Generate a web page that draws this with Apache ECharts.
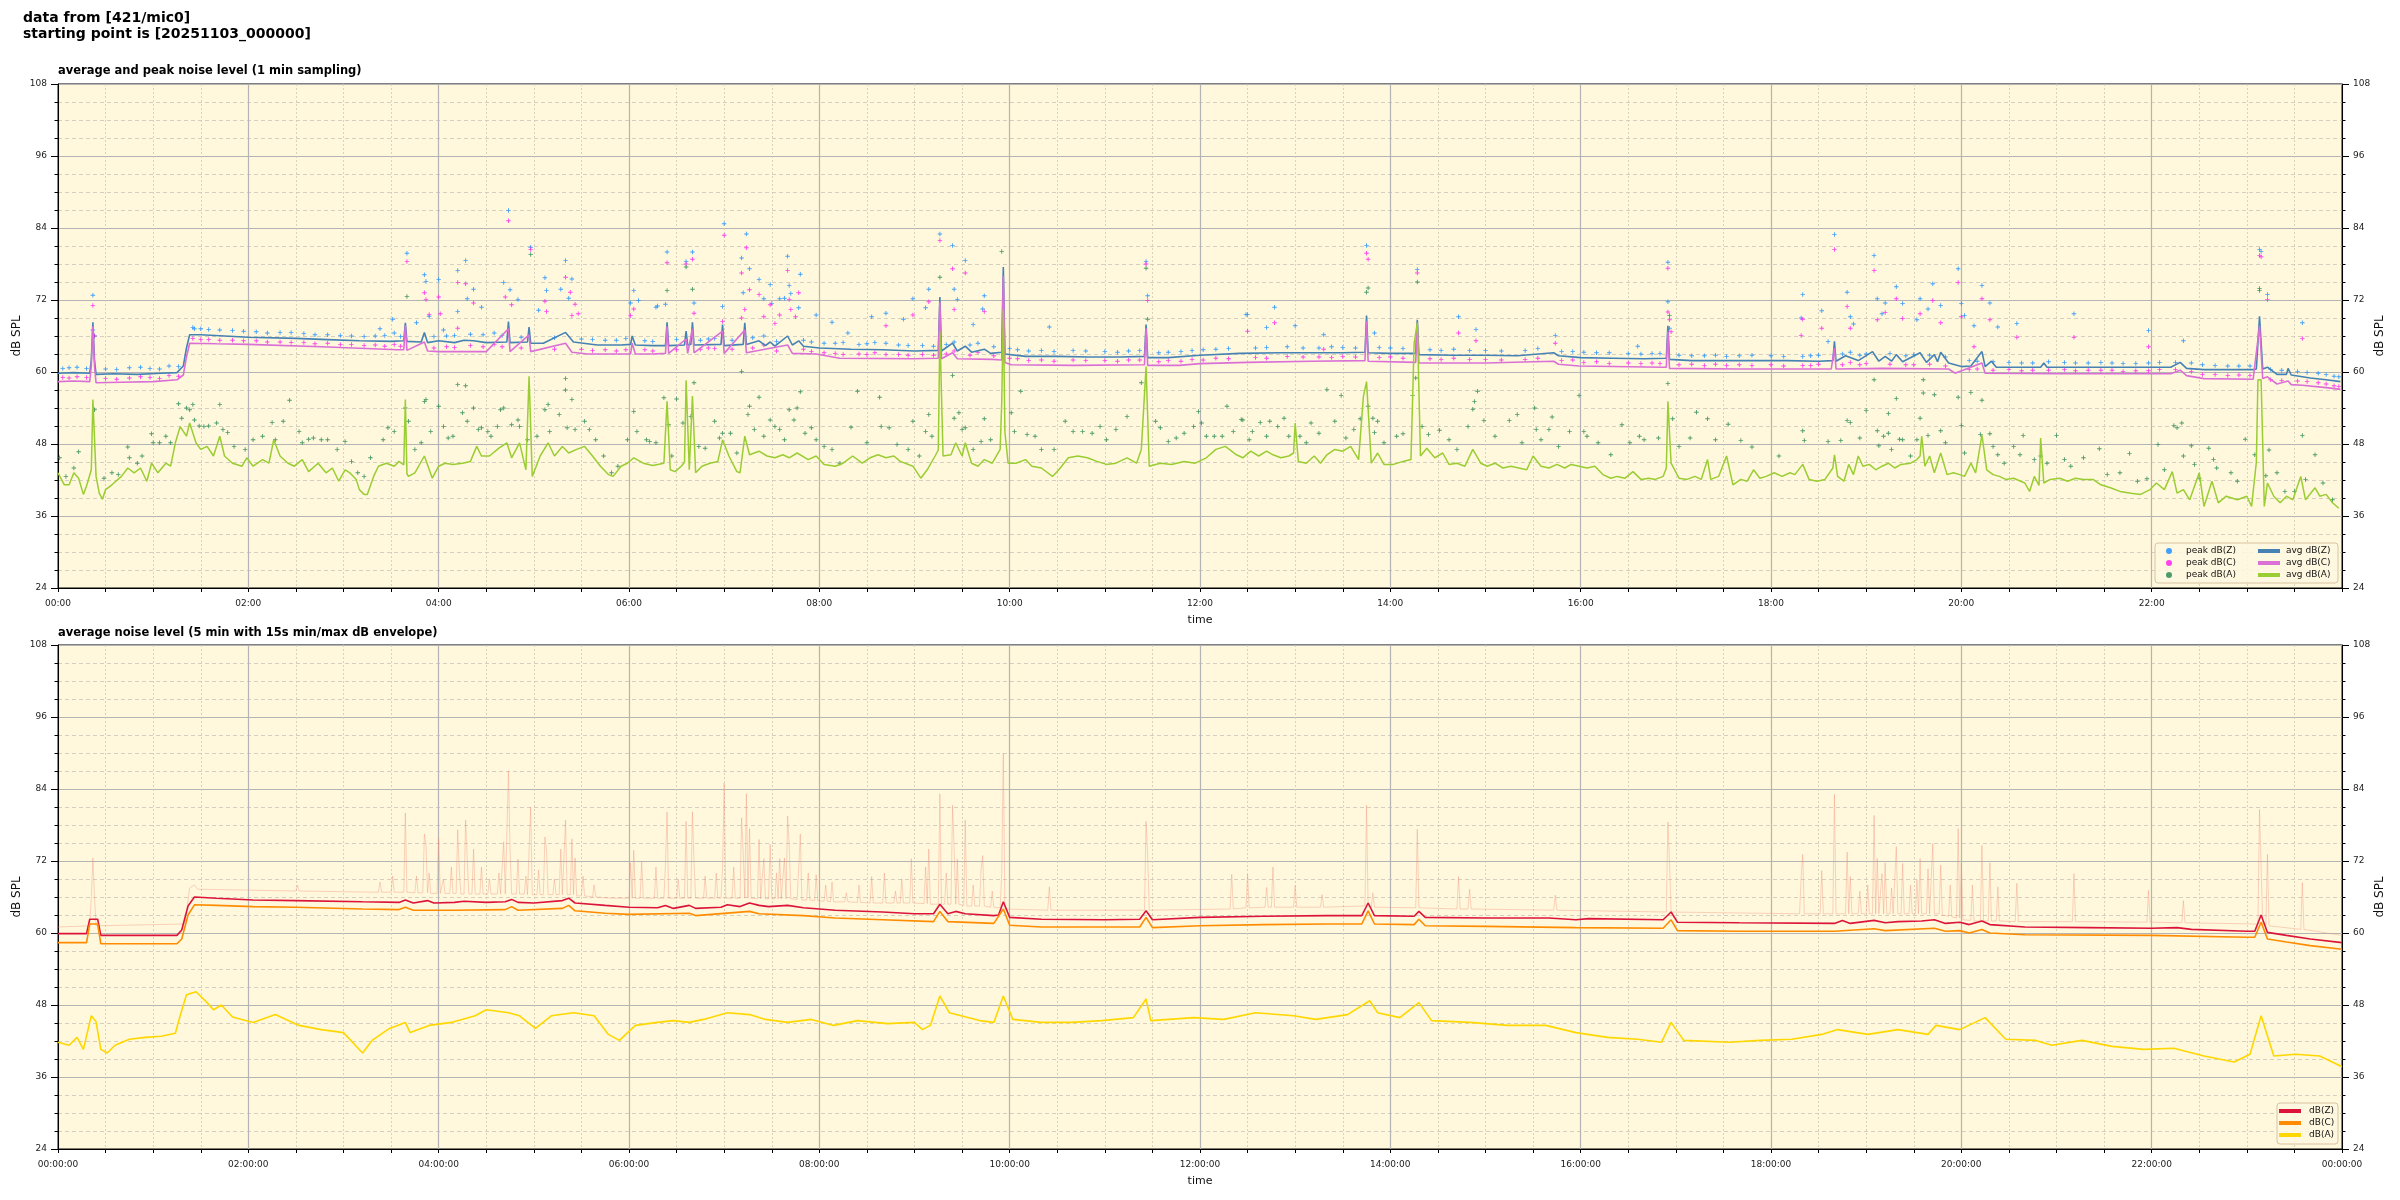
<!DOCTYPE html>
<html><head><meta charset="utf-8">
<script src="https://cdn.jsdelivr.net/npm/echarts@6/dist/echarts.min.js"></script>
<style>html,body{margin:0;padding:0;background:#fff}#c{width:2400px;height:1200px}</style>
</head><body><div id="c"></div>
<script>
const topTickLabels=['00:00','02:00','04:00','06:00','08:00','10:00','12:00','14:00','16:00','18:00','20:00','22:00'];
const bottomTickLabels=['00:00:00','02:00:00','04:00:00','06:00:00','08:00:00','10:00:00','12:00:00','14:00:00','16:00:00','18:00:00','20:00:00','22:00:00','00:00:00'];
const yTicks=[24,36,48,60,72,84,96,108];

// top plot: 1-min averages [minute, dB]
const avgZ=[[0,59.8],[10,59.9],[20,59.8],[21,62],[22,68.3],[23,62],[24,59.6],[35,59.7],[50,59.6],[65,59.8],[75,59.9],[79,61],[81,64],[83,66.2],[90,66.2],[105,66],[120,65.8],[150,65.6],[170,65.4],[190,65.2],[210,65.1],[218,65.2],[219,68.2],[220,65.1],[229,65],[231,66.6],[233,64.9],[240,65.2],[250,64.9],[256,65.3],[262,65.2],[270,64.9],[283,65],[284,68.4],[285,64.9],[296,65],[297,67.5],[298,64.8],[306,64.8],[320,66.6],[325,65],[340,64.5],[355,64.5],[361,64.6],[362,66],[364,64.5],[375,64.4],[383,64.4],[384,68.3],[385,64.4],[395,64.5],[396,66.8],[397,64.5],[399,64.6],[400,68.3],[401,64.5],[418,64.6],[419,67.9],[420,64.4],[432,64.6],[433,68.2],[434,64.6],[442,65.2],[446,64.4],[449,65],[452,64.3],[460,66],[463,64.5],[467,65.2],[470,64.3],[480,64],[500,63.8],[520,63.7],[540,63.5],[555,63.6],[556,72.5],[557,63.5],[564,64.8],[567,63.5],[572,64.3],[576,63.3],[584,63.8],[588,63.1],[595,63.3],[596,77.5],[597,63],[610,62.6],[630,62.6],[650,62.5],[670,62.5],[685,62.6],[686,67.9],[687,62.4],[700,62.4],[720,62.8],[745,63.1],[770,63.2],[790,63.2],[810,63.2],[824,63.3],[825,69.4],[826,63.2],[840,63.1],[856,63.1],[857,68.7],[858,62.9],[880,62.8],[900,62.8],[920,62.7],[943,63.2],[946,62.7],[960,62.4],[980,62.3],[1000,62.2],[1014,62.3],[1015,67.7],[1016,62.1],[1030,61.9],[1060,61.9],[1090,61.9],[1110,61.8],[1119,61.9],[1120,65.1],[1121,61.8],[1127,62.7],[1135,61.9],[1144,63.4],[1148,61.8],[1152,62.6],[1156,61.8],[1159,62.9],[1163,61.7],[1174,63.2],[1178,61.6],[1183,62.9],[1185,61.7],[1187,63.3],[1192,61.5],[1200,60.9],[1206,61],[1213,63.4],[1215,60.9],[1219,61.8],[1222,60.8],[1250,60.8],[1252,61.5],[1254,60.8],[1290,60.8],[1332,60.8],[1338,61.6],[1342,60.6],[1353,60.4],[1384,60.4],[1386,60.5],[1388,69.3],[1390,60.5],[1393,60.8],[1399,59.6],[1405,59.6],[1406,60.6],[1408,59.5],[1420,59],[1430,58.7],[1439,58.4]];
const avgC=[[0,58.4],[10,58.5],[20,58.4],[21,61],[22,67.6],[23,61],[24,58.2],[40,58.3],[60,58.4],[75,58.7],[79,59.5],[81,62.5],[83,64.8],[100,64.7],[120,64.6],[166,64.2],[214,63.7],[218,63.7],[219,67.8],[220,63.6],[231,65],[233,63.5],[240,63.4],[270,63.4],[284,67.2],[285,63.4],[297,66.2],[298,63.4],[320,64.8],[324,63.3],[334,63],[361,63],[362,64.8],[364,63],[375,63],[383,63.1],[384,67.6],[385,63.1],[396,65.5],[397,63.1],[400,67.2],[401,63.2],[419,66.8],[420,63.1],[433,67],[434,63.2],[460,64.5],[463,63.1],[478,63],[493,62.3],[540,62.2],[555,62.3],[556,71.7],[557,62.2],[564,63.2],[567,62.2],[589,62.1],[595,62],[596,76],[597,61.6],[601,61.2],[640,61.1],[685,61.2],[686,67.3],[687,61.1],[707,61.1],[720,61.4],[750,61.6],[790,61.8],[824,61.9],[825,68.5],[826,61.8],[856,61.6],[857,68.2],[858,61.5],[900,61.5],[943,61.8],[946,61.3],[959,61],[1012,60.8],[1014,60.8],[1015,66.8],[1016,60.6],[1060,60.5],[1118,60.5],[1120,64],[1121,60.5],[1150,60.6],[1192,60.5],[1196,59.8],[1213,61.5],[1215,59.8],[1260,59.7],[1332,59.7],[1338,60.3],[1342,59.4],[1353,58.9],[1384,58.8],[1388,67.7],[1390,58.9],[1393,59.2],[1399,58],[1406,58.5],[1408,57.9],[1415,57.8],[1430,57.4],[1439,57.1]];
const avgA=[[0,43.2],[4,41.2],[7,41.2],[10,43.2],[13,42.3],[16,39.6],[18,41],[21,43.7],[22,55.4],[24,42.6],[26,39.8],[28,38.8],[30,40.4],[34,41.2],[40,42.6],[44,44],[48,43.2],[52,44],[56,41.8],[59,44.8],[63,43.2],[68,44.8],[71,44.3],[74,48.2],[77,50.9],[81,49.3],[83,51.5],[87,48.2],[90,47.1],[94,47.6],[98,46],[102,49.3],[105,46],[110,44.8],[116,44.3],[119,45.7],[123,44.3],[129,45.4],[133,44.8],[136,48.7],[140,46],[145,44.8],[149,44.3],[154,45.4],[158,43.4],[164,44.8],[169,43.2],[173,44],[177,41.8],[181,43.7],[184,43.2],[188,42.1],[190,40.4],[193,39.6],[195,39.6],[199,42.6],[202,44.3],[207,44.8],[212,44.3],[215,45.1],[218,44.5],[219,55.4],[220,43],[221,42.6],[225,43.2],[231,46],[236,42.3],[240,44.3],[244,44.8],[249,44.6],[255,44.8],[260,45.1],[264,47.6],[267,46],[272,46],[278,47.3],[283,48.2],[286,45.7],[291,48.2],[295,43.7],[297,59.3],[299,42.6],[304,46],[309,48.2],[313,46],[318,47.6],[322,46.5],[327,47.1],[332,47.6],[337,46],[342,44.3],[347,42.9],[350,42.6],[355,44.3],[359,44.8],[363,45.7],[369,44.8],[375,44.4],
[382,44.8],[383,45],[384,55.1],[386,43.7],[389,43.4],[393,44.3],[395,45],[396,58.6],[398,43.7],[399,44],[400,56],[402,43.2],[406,44.3],[411,44.8],[416,45.1],[419,48.7],[423,46],[428,43.4],[430,43.2],[433,49.3],[436,46.2],[442,46.8],[447,46],[452,45.7],[457,46.2],[461,45.7],[466,46.5],[473,45.4],[478,46],[483,44.6],[490,44.3],[495,44.8],[501,46],[507,44.8],[512,45.7],[517,46.2],[522,45.7],[527,46],[531,45.1],[539,44.3],[544,42.3],[548,43.7],[553,46],[555,47],[556,66.8],[558,46],[563,46.2],[566,48.2],[570,46],[572,48.2],[576,44.8],[580,44.3],[584,45.4],[589,44.8],[594,47.1],[595,55],[596,70.4],[597,50],[599,44.8],[604,44.8],[610,45.4],[614,44.3],[620,44],[627,42.6],[631,43.7],[637,45.7],[643,46],[649,45.7],[655,45.1],[661,44.6],[667,44.8],[674,45.7],[680,44.8],[683,47.1],[686,60.9],[688,44.3],[695,44.8],[702,44.6],[710,45.1],[717,44.8],[724,45.7],[730,47.1],[736,47.6],[743,46.2],
[747,45.7],[752,46.8],[757,46],[762,46.8],[766,46.2],[771,45.7],[776,46],[779,46.5],[780,51.5],[782,45.1],[787,44.8],[792,46],[796,44.8],[800,46.2],[805,47.1],[810,46.8],[815,47.6],[820,45.4],[823,55.9],[825,58.4],[828,44.8],[832,46.5],[836,44.6],[842,44.6],[848,45.1],[853,45.4],[855,64.8],[857,68.2],[859,46],[863,47.3],[868,45.7],[873,46.5],[877,44.6],[882,44.8],[887,44.3],[892,47.1],[897,44.8],[901,44.3],[906,44.8],[911,44],[916,44.3],[921,44],[926,43.7],[930,46],[935,44.3],[940,44],[945,44.6],[950,44],[954,44.6],[959,44.3],[964,44],[969,44.3],[974,42.9],[979,42.3],[983,42.6],[988,42.3],[993,43.4],[998,42.1],[1003,42.3],[1007,42.1],[1012,42.6],[1014,44],[1015,55.1],[1017,44.8],[1022,42.3],[1027,42.1],[1032,42.6],[1036,42.1],[1040,45.4],[1042,42.1],[1047,42.6],[1052,46],[1056,41.2],[1061,42.1],[1065,41.8],[1069,43.7],[1073,42.3],[1077,42.6],[1082,43.2],[1087,42.6],[1092,43.2],[1095,42.9],[1100,44.6],[1104,42.1],[1109,41.8],[1114,42.1],[1119,44],[1120,46.2],[1122,42.6],
[1126,41.8],[1129,44.6],[1132,42.9],[1135,46],[1138,44.3],[1142,44.6],[1146,43.7],[1150,44.3],[1154,44.8],[1158,44],[1162,44.6],[1168,44.8],[1172,45.4],[1174,46],[1175,49.3],[1177,44.3],[1180,46],[1183,43.2],[1187,46.5],[1191,42.9],[1195,43.2],[1199,42.9],[1202,42.6],[1206,44.8],[1209,43.2],[1213,49.5],[1216,43.7],[1220,42.9],[1224,42.6],[1228,42.1],[1233,42.3],[1240,41.5],[1243,40.1],[1246,42.6],[1249,41.1],[1250,49],[1252,41.5],[1256,42.1],[1262,42.3],[1267,41.8],[1272,42.3],[1277,42.1],[1283,42.1],[1288,41.2],[1294,40.7],[1300,40.1],[1307,39.8],[1313,39.6],[1319,40.4],[1323,41.5],[1328,40.4],[1333,43.4],[1336,39.8],[1340,40.4],[1344,38.7],[1350,43.2],[1353,37.6],[1358,41.8],[1362,38.2],[1367,39.3],[1374,38.7],[1380,39.3],[1383,37.6],[1386,45],[1387,58.7],[1389,58.7],[1391,37.6],[1393,41.5],[1397,39.3],[1401,38.2],[1405,39.3],[1409,38.7],[1414,42.6],[1417,38.7],[1423,40.7],[1426,39.3],[1430,39.6],[1434,38.2],[1438,37.3]];

// top plot: 1-min peaks [minute, dB]
const peakZ=[[3,60.6],[12,60.8],[30,60.5],[45,60.7],[58,60.6],[70,61],[85,67.4],[95,67.1],[110,66.9],[125,66.7],[140,66.6],[155,66.4],[170,66.2],[185,66],[200,66],[212,66.5],[245,66],[260,66.3],[275,66.5],[330,65.5],[345,65.3],[370,65.2],[410,65.5],[425,65.3],[445,66],[470,65.3],[490,64.8],[505,64.6],[515,64.9],[530,64.5],[545,64.4],[565,65],[580,64.8],[605,63.7],[620,63.6],[640,63.6],[660,63.4],[675,63.5],[700,63.3],[715,63.6],[730,63.8],[755,64],[775,64.2],[795,64],[810,64.1],[840,64],[865,63.7],[880,63.8],[900,63.6],[925,63.6],[955,63.4],[970,63.2],[990,63.1],[1005,63.1],[1030,62.7],[1045,62.8],[1060,62.7],[1080,62.7],[1100,62.6],[1110,62.8],[1130,63.3],[1140,63],[1165,62.7],[1180,62.8],[1210,61.8],[1230,61.6],[1245,61.5],[1265,61.6],[1280,61.5],[1295,61.5],[1310,61.4],[1325,61.6],[1345,61.5],[1360,61.1],[1375,61],[1395,60.4],[1412,60.1],[1425,59.8],[1435,59.3],
[7,60.7],[18,60.6],[37,60.4],[52,60.8],[64,60.5],[76,60.9],[90,67.2],[102,67],[117,66.8],[132,66.5],[147,66.6],[162,66.2],[178,66.1],[193,65.9],[206,66.1],[216,65.9],[237,65.9],[250,66.1],[268,66.2],[280,66.1],[292,65.8],[313,65.7],[337,65.4],[352,65.3],[358,65.6],[375,65.1],[390,65.4],[405,65.3],[414,65.6],[438,65.7],[453,65.1],[475,65],[483,64.8],[495,64.9],[510,64.7],[522,64.8],[536,64.4],[552,64.3],[560,64.6],[575,64.5],[590,64.2],[600,63.9],[612,63.5],[628,63.4],[648,63.5],[668,63.3],[682,63.6],[694,63.2],[708,63.4],[722,63.7],[738,63.9],[762,64.1],[785,64],[803,64.2],[818,64],[833,64.1],[848,63.9],[872,63.6],[890,63.6],[910,63.5],[933,63.9],[948,63.4],[962,63.3],[978,63.2],[998,63],[1010,63.1],[1022,62.8],[1038,62.7],[1052,62.6],[1068,62.8],[1088,62.6],[1105,62.7],[1125,63],[1136,62.8],[1155,63.1],[1170,62.9],[1190,62.5],[1205,61.9],[1220,61.7],[1238,61.5],[1255,61.7],[1272,61.5],[1288,61.6],[1302,61.4],[1318,61.5],[1335,61.6],[1352,61.2],[1368,61],[1382,61],[1402,60.3],[1418,59.9],[1430,59.6],[1438,59.2],
[22,72.8],[22,67],[23,66],[86,67.2],[203,67.2],[211,68.8],[220,79.8],[226,68.2],[231,76.2],[232,75.1],[234,69.3],[240,75.4],[243,67],[252,76.9],[252,70.1],[257,78.6],[258,72.2],[262,73.8],[267,70.8],[281,74.9],[284,86.9],[285,73.7],[290,72.1],[298,80.8],[303,70.3],[307,75.7],[308,73.6],[317,73.8],[320,78.6],[322,72.3],[324,75.5],[361,71.5],[363,73.6],[366,71.9],
[377,70.8],[378,71],[383,71.3],[384,80],[396,78.4],[400,80],[401,71.5],[419,70.9],[420,84.7],[431,79],[432,73.2],[434,83],[436,77.2],[442,75.4],[445,72.2],[449,74.6],[450,71.4],[455,72.2],[458,72.3],[460,79.3],[461,74.4],[462,73.1],[467,70.7],[468,76.3],[478,69.5],[488,68.3],[498,66.5],[513,69.2],[522,69.8],[533,68.8],[539,72.2],[547,70.7],[549,73.8],[556,83],[564,81.1],[565,73.8],[567,72.1],[572,78.6],[577,67.9],[583,70.5],[584,72.7],[625,67.5],[686,78.4],[687,72.7],[749,69.6],
[750,69.6],[762,67.4],[767,70.8],[780,67.7],[798,66.2],[825,81.1],[830,66.5],[857,77.1],[883,69.2],[894,67.1],[944,66.1],[996,64.3],[1015,78.3],[1015,71.7],[1016,67.3],[1099,69],[1100,72.9],[1112,70.2],[1116,65.1],[1120,82.9],
[1128,73.3],[1130,69.2],[1132,68],[1145,79.4],[1147,72.2],[1150,69.7],[1152,71.5],[1159,74.2],[1163,71.4],[1172,68.7],[1174,72.2],[1179,70.5],[1182,74.7],[1187,71.1],[1198,77.2],[1200,71.4],[1202,69.4],[1208,67.7],[1213,74.4],[1218,71.5],[1223,67.5],[1235,68.1],[1271,69.7],[1318,66.9],[1340,65.2],[1388,80.4],[1389,80.1],[1393,72.9],[1415,68.2]];
const peakC=[[3,59.1],[12,59.2],[30,58.9],[45,59],[58,59.1],[70,59.4],[85,65.6],[95,65.4],[110,65.3],[125,65.2],[140,65],[155,64.9],[170,64.8],[185,64.6],[200,64.5],[212,64.6],[245,64.2],[260,64.4],[275,64.6],[330,63.8],[345,63.7],[370,63.7],[410,64],[425,63.8],[445,64.5],[470,63.8],[490,63.1],[505,63],[515,63.2],[530,62.9],[545,62.9],[565,63.5],[580,63.3],[605,62.2],[620,62],[640,62],[660,61.9],[675,62],[700,61.9],[715,62.1],[730,62.3],[755,62.4],[775,62.6],[795,62.5],[810,62.6],[840,62.5],[865,62.2],[880,62.3],[900,62.1],[925,62.1],[955,62],[970,61.7],[990,61.5],[1005,61.5],[1030,61.3],[1045,61.3],[1060,61.2],[1080,61.2],[1100,61.1],[1110,61.3],[1130,61.6],[1140,61.4],[1165,61.2],[1180,61.3],[1210,60.5],[1230,60.4],[1245,60.3],[1265,60.4],[1280,60.3],[1295,60.3],[1310,60.2],[1325,60.4],[1345,60.1],[1360,59.6],[1375,59.5],[1395,58.7],[1412,58.5],[1425,58.2],[1435,57.7],
[7,59],[18,59.1],[37,58.8],[52,59.2],[64,58.9],[76,59.3],[90,65.4],[102,65.3],[117,65.2],[132,65],[147,64.9],[162,64.7],[178,64.6],[193,64.4],[206,64.3],[216,64.3],[237,64],[250,64.1],[268,64.2],[280,64.2],[292,64],[313,63.8],[337,63.6],[352,63.5],[358,63.7],[375,63.5],[390,63.7],[405,63.8],[414,63.9],[438,64],[453,63.5],[475,63.4],[483,63.2],[495,62.9],[510,62.9],[522,62.9],[536,62.8],[552,62.8],[560,63],[575,62.8],[590,62.7],[600,62.3],[612,61.9],[628,61.8],[648,61.9],[668,61.8],[682,62],[694,61.7],[708,61.8],[722,62],[738,62.2],[762,62.3],[785,62.5],[803,62.4],[818,62.5],[833,62.4],[848,62.3],[872,62.1],[890,62.1],[910,62],[933,62.3],[948,61.9],[962,61.6],[978,61.4],[998,61.4],[1010,61.4],[1022,61.2],[1038,61.1],[1052,61.1],[1068,61.1],[1088,61],[1105,61.1],[1125,61.2],[1136,61.2],[1155,61.3],[1170,61.2],[1190,61],[1205,60.4],[1220,60.3],[1238,60.2],[1255,60.3],[1272,60.2],[1288,60.3],[1302,60.1],[1318,60.2],[1335,60.4],[1352,59.6],[1368,59.4],[1382,59.4],[1402,58.6],[1418,58.4],[1430,58],[1438,57.6],
[22,71.1],[23,66],[220,78.4],[231,73.2],[232,72.1],[234,69.6],[240,72.5],[241,69.7],[252,74.9],[252,67.3],[257,74.7],[262,71.5],[284,85.2],[282,72.5],[286,71.2],[298,80.4],[307,71.8],[308,70.1],[320,75.8],[323,73.3],[326,71.3],[328,69.7],[324,69.4],[363,70.5],[361,69.4],
[384,78.2],[396,78],[400,78.8],[401,69.8],[420,82.8],[419,68.4],[431,76.5],[434,80.7],[436,73.7],[433,70.4],[431,69],[442,72.9],[445,69.2],[449,71.2],[452,68.1],[455,69.5],[460,76.9],[461,72.1],[462,70.4],[465,69.2],[467,73.2],[522,67.7],[539,69.5],[549,71.7],[556,81.9],[564,77.2],[565,70.4],[572,76.5],[584,70.1],[686,78],[687,71.9],
[750,66.8],[767,68.2],[798,63.8],[825,79.8],[826,78.8],[857,76.5],[883,66.5],[894,65.2],[944,64.8],[1015,77.3],[1015,70],[1016,68.7],[1017,66.7],[1100,68.8],[1099,66.1],[1112,67.3],[1120,80.4],
[1128,70.9],[1130,67.3],[1145,76.9],[1147,68.7],[1152,69.9],[1159,72.2],[1163,68.9],[1174,69.7],[1182,71.9],[1187,68.2],[1198,74.9],[1200,69.2],[1208,64.2],[1213,72.2],[1218,68.7],[1235,65.8],[1271,65.8],[1318,64.2],[1388,79.4],[1389,79.2],[1393,72.1],[1415,65.6]];
const peakA=[[1,45.7],[5,42.6],[10,44],[13,46.7],[23,53.7],[29,42.3],[34,43.2],[38,42.9],[44,47.5],[45,45.7],[50,44.8],[53,46],[59,49.7],[60,48.2],[64,48.2],[68,49.3],[71,48.2],[76,54.7],[78,52.3],[81,54],[83,53.7],[85,54.6],[86,52],[89,51],[92,50.9],[95,51],[100,51.5],[102,54.6],[104,50.4],[107,49.9],[111,47.6],[118,47.1],[123,48.7],[129,49.3],[135,51.6],[137,48.7],[142,51.8],[146,55.3],[152,50.1],[154,48.2],[158,48.8],[161,49],[166,48.7],[170,48.7],[176,47.1],[181,48.4],[185,45.1],[189,43.2],[193,42.6],[197,45.7],[205,48.7],[208,50.7],[212,50.1],[219,54],[221,51.8],[225,47.1],[229,48.2],[231,55.1],[232,55.4],[235,50.1],[240,54.3],[243,50.9],[246,49],[249,49.3],[252,57.9],[257,57.7],[255,53.2],[258,51.8],[262,54],[265,50.4],[267,50.7],[271,50.1],[273,49.3],[277,50.9],[279,53.7],[281,54],[286,51.2],[290,52],[291,50.9],[296,48.7],[298,79.6],[302,49.3],[307,53.7],[309,54.6],[310,50.1],[316,52.9],[320,58.9],[320,57],[324,55.4],[321,50.7],[326,50.4],[332,51.8],[335,50.4],[339,48.7],[344,46],[349,43.2],[353,44.3],[359,48.7],[363,53.4],[365,50.1],[371,48.7],
[220,72.6],[373,48.4],[377,48.2],[382,55.7],[384,73.6],[385,51.2],[387,46],[390,55.5],[394,51.5],[396,77.5],[399,52.6],[400,73.8],[401,58.2],[404,47.6],[408,47.3],[414,51.8],[417,49],[419,49.8],[424,49.8],[428,46.5],[431,60.1],[435,52.9],[436,54.3],[439,50.4],[442,55.8],[445,49.3],[449,52],[452,50.9],[455,50.4],[458,48.7],[461,53.7],[464,52],[466,54],[468,56.7],[471,49.8],[475,50.7],[478,48.7],[483,47.6],[488,47.1],[493,44.8],[500,50.8],[504,56.8],[510,48.2],[518,55.8],[519,50.9],[524,50.7],[529,47.9],[536,47.1],[539,51.8],[543,46],[549,52.9],[547,50.1],[551,49.3],[556,75.8],[564,59.4],[565,52.3],[568,53.2],[570,50.4],[572,50.7],[577,47.1],[582,48.4],[584,52.2],[588,48.7],[595,80.1],[601,53.2],[603,50.1],[607,56.8],[611,49.6],[616,49.3],[620,47.1],[628,47.1],[635,51.8],[640,50.1],[646,50.1],[652,49.8],[657,50.9],[661,48.7],[667,50.4],[674,52.6],[683,58.2],[686,77.3],[687,68.8],[692,51.8],[695,50.7],[700,48.4],[705,49],[710,49.8],[716,50.9],[719,53.4],[721,51.5],[724,49.3],[729,49.3],[734,49.3],[737,54.3],[741,50.1],[746,52.1],
[747,52],[751,48.7],[753,50.1],[758,51.6],[762,49.3],[764,51.8],[769,50.9],[773,52.3],[776,49.3],[783,49.3],[787,48.2],[790,51.5],[795,49.8],[800,57.1],[805,51.8],[809,56.1],[812,49],[817,50.4],[821,52.2],[825,73.3],[826,74],[826,54.3],[829,52.3],[832,51.8],[830,49.9],[836,48.2],[844,49.3],[848,49.7],[854,56.1],[856,59],[857,75],[860,50.9],[864,49.6],[871,50.3],[877,48.7],[882,47.1],[889,50.9],[892,53.8],[893,55.1],[895,56.8],[899,51.9],[906,49.3],[915,51.9],[920,52.9],[923,48.2],[931,54],[932,50.4],[935,48.7],[940,50.4],[942,52.5],[946,47.6],[953,50.1],[959,56.1],[962,50.1],[964,49.3],[971,48.2],[979,46.2],[986,51.2],[991,48.2],[997,49.3],[1000,48.7],[1009,49],[1015,58.1],[1016,69.4],[1018,52.2],[1022,47.6],[1029,49],[1033,53.3],[1040,52.2],[1045,48.7],[1053,51.3],[1061,48.6],[1068,47.5],[1085,46],[1100,50.2],[1101,48.6],[1116,48.4],
[1124,48.6],[1128,51.9],[1130,51.6],[1136,49],[1140,53.6],[1145,58.7],[1147,50.2],[1148,47.7],[1151,49.3],[1154,53.1],[1154,49.8],[1156,47.1],[1159,55.6],[1161,48.8],[1163,48.7],[1168,46],[1172,48.7],[1174,52.3],[1176,58.7],[1176,56.5],[1179,49.4],[1183,56.2],[1187,50.2],[1190,48.2],[1198,55.8],[1200,51.1],[1202,46.5],[1206,56.6],[1212,49.6],[1213,55.3],[1218,49.7],[1220,47.6],[1223,46.2],[1227,44.8],[1233,47.6],[1237,46.2],[1239,49.4],[1246,45.4],[1250,46],[1254,44.8],[1260,49.4],[1265,45.4],[1269,44.3],[1277,45.7],[1287,47.2],[1292,42.9],[1300,43.2],[1306,46.4],[1311,41.8],[1317,42.2],[1324,47.9],[1328,43.7],[1334,51.1],[1336,50.7],[1339,51.5],[1340,46],[1345,47.7],[1347,44.6],[1350,42.3],[1356,47.3],[1359,45.4],[1361,44],[1370,43.2],[1374,41.8],[1379,48.8],[1385,46.2],[1388,73.9],[1388,73.6],[1392,42.7],[1394,47],[1399,43.2],[1404,40.1],[1410,40.1],[1415,49.4],[1417,42.1],[1423,46.2],[1428,41.5],[1434,38.7]];

// bottom plot: 5-min averages and 15 s max envelope [minute, dB]
const lineZ=[[0,59.9],[18,59.9],[20,62.3],[25,62.3],[27,59.6],[75,59.6],[78,60.5],[82,64.5],[86,66],[100,65.8],[123,65.5],[150,65.4],[192,65.2],[215,65.1],[219,65.5],[224,65],[233,65.4],[237,65],[250,65.1],[256,65.3],[270,65.1],[282,65.2],[286,65.6],[290,65.1],[300,65],[318,65.4],[322,65.8],[326,65],[345,64.6],[360,64.3],[378,64.2],[383,64.6],[388,64.1],[398,64.6],[402,64.1],[418,64.3],[422,64.7],[430,64.4],[436,65],[442,64.6],[448,64.4],[460,64.6],[470,64.2],[490,63.8],[520,63.5],[540,63.2],[552,63.2],[556,64.8],[561,63.2],[566,63.6],[572,63.2],[590,62.9],[593,63],[596,65.2],[600,62.6],[620,62.3],[660,62.2],[682,62.3],[686,63.7],[690,62.2],[720,62.6],[760,62.8],[800,62.9],[822,62.9],[826,65],[830,62.9],[855,62.8],[858,63.6],[862,62.6],[900,62.5],[940,62.5],[957,62.2],[965,62.4],[1012,62.2],[1017,63.5],[1021,61.8],[1060,61.7],[1120,61.6],[1125,62.1],[1130,61.6],[1145,62.1],[1152,61.7],[1160,61.9],[1175,62],[1183,62.2],[1190,61.6],[1199,61.8],[1205,61.4],[1213,62],[1218,61.4],[1240,61],[1280,60.9],[1320,60.8],[1336,60.9],[1345,60.6],[1380,60.3],[1385,60.3],[1389,63],[1393,60.1],[1405,59.6],[1420,59],[1440,58.4]];
const lineC=[[0,58.4],[18,58.4],[20,61.5],[25,61.5],[27,58.2],[75,58.2],[78,59],[82,63],[86,64.7],[100,64.6],[123,64.4],[150,64.3],[192,64],[215,63.9],[219,64.3],[224,63.8],[250,63.8],[282,63.9],[286,64.4],[290,63.8],[318,64.1],[322,64.6],[326,63.7],[345,63.3],[360,63.1],[398,63.3],[402,62.9],[436,63.6],[442,63.2],[470,62.9],[490,62.5],[520,62.2],[552,61.9],[556,63.6],[561,61.9],[590,61.6],[596,64],[600,61.3],[620,61],[682,61],[686,62.6],[690,60.9],[720,61.2],[760,61.4],[800,61.5],[822,61.5],[826,63.7],[830,61.5],[855,61.4],[858,62.3],[862,61.2],[900,61.1],[957,60.9],[1012,60.8],[1017,62.2],[1021,60.4],[1060,60.3],[1120,60.3],[1145,60.7],[1152,60.4],[1183,60.8],[1190,60.3],[1199,60.4],[1205,60],[1213,60.6],[1218,60],[1240,59.7],[1320,59.6],[1380,59.3],[1385,59.3],[1389,61.8],[1393,59],[1405,58.5],[1420,57.9],[1440,57.3]];
const lineA=[[0,41.8],[7,41.3],[12,42.6],[16,40.6],[21,46.2],[24,45.2],[27,40.6],[31,40],[36,41.3],[45,42.3],[55,42.6],[65,42.8],[74,43.3],[77,46.2],[81,49.7],[87,50.2],[94,48.4],[98,47.2],[103,48],[110,46],[123,45.1],[137,46.4],[152,44.6],[166,43.9],[180,43.4],[192,40],[198,42.1],[209,44.1],[219,45.1],[222,43.4],[234,44.6],[248,45.1],[263,46.2],[270,47.2],[284,46.7],[291,46.2],[301,44.1],[311,46.2],[325,46.7],[338,46.2],[347,43.1],[354,42.1],[364,44.6],[378,45.1],[388,45.4],[398,45.1],[407,45.6],[422,46.7],[436,46.4],[446,45.6],[460,45.1],[475,45.6],[489,44.6],[504,45.4],[523,44.9],[540,45.1],[545,43.9],[550,44.6],[556,49.5],[562,46.7],[581,45.4],[590,45.1],[596,49.5],[602,45.6],[620,45.1],[639,45.1],[658,45.4],[678,45.9],[686,49],[689,45.4],[716,45.9],[735,45.6],[755,46.7],[779,46.2],[793,45.6],[813,46.4],[827,48.7],[832,46.7],[846,45.9],[858,48.4],[866,45.4],[890,45.1],[914,44.6],[938,44.6],[957,43.4],[977,42.6],[996,42.3],[1011,41.8],[1017,45.1],[1025,42.1],[1054,41.8],[1073,42.1],[1093,42.3],[1112,43.1],[1122,43.9],[1141,43.1],[1160,43.9],[1179,43.1],[1184,44.6],[1199,43.9],[1215,45.9],[1228,42.3],[1247,42.1],[1257,41.3],[1276,42.1],[1295,41.1],[1315,40.6],[1334,40.8],[1353,39.5],[1372,38.5],[1382,39.8],[1389,46.2],[1397,39.5],[1411,39.8],[1426,39.5],[1440,37.7]];
const envMax=[[0,61],[20,61.2],[21,66],[22,72.5],[23,66],[24,61.2],[80,61.5],[83,67.5],[86,68],[88,67.3],[150,67],[151,68],[152,67],[200,66.8],
[202,66.8],[203,68.5],[204,66.8],[210,66.8],[211,69.5],[212,66.8],[218,66.8],[219,80],[220,66.8],[225,66.7],[226,69.5],[227,66.7],[230,66.7],[231,76.5],[232,75],[233,66.7],[234,70],[235,66.6],[239,66.6],[240,75.8],[241,66.6],[243,69],[244,66.6],[247,66.6],[248,71],[249,66.6],[251,66.6],[252,77.2],[253,70.5],[254,66.5],[256,66.5],[257,78.8],[258,72.5],[259,66.5],[261,66.5],[262,74],[263,66.5],[266,66.5],[267,71],[268,66.5],[271,66.5],[272,69],[273,66.5],[277,66.5],[278,70],[279,66.5],[280,66.5],[281,75.2],[282,66.5],[283,66.5],[284,87],[285,74],[286,66.5],[289,66.5],[290,72.3],[291,66.5],[294,66.5],[295,69.5],[296,66.4],[297,66.4],[298,81],[299,66.4],[302,66.4],[303,70.5],[304,66.4],[306,66.4],[307,76],[308,73.8],[309,66.4],[312,66.4],[313,69],[314,66.4],[316,66.4],[317,74],[318,66.4],[319,66.4],[320,78.8],[321,66.4],[323,66.4],[324,75.7],[325,66.4],[326,72.5],[327,66.2],[330,66.2],[331,69.5],[332,66.2],[337,66],[338,68],[339,66],[350,65.8],
[360,65.8],[361,71.7],[362,65.8],[363,73.8],[364,65.8],[367,65.8],[368,72],[369,65.8],[376,65.8],[377,71],[378,65.8],[382,65.8],[383,71.5],[384,80.2],[385,65.8],[390,65.8],[391,69],[392,65.8],[395,65.8],[396,78.6],[397,65.8],[399,65.8],[400,80.2],[401,71.7],[402,65.8],[407,65.8],[408,69.5],[409,65.8],[414,65.8],[415,70],[416,65.8],[418,65.8],[419,71],[420,85],[421,65.8],[425,65.8],[426,71],[427,65.8],[430,65.8],[431,79.2],[432,73.4],[433,65.8],[434,83.2],[435,65.8],[436,77.4],[437,65.8],[441,65.7],[442,75.6],[443,65.7],[444,65.7],[445,72.4],[446,65.7],[448,65.7],[449,74.8],[450,65.7],[452,65.7],[453,70],[454,65.7],[455,72.4],[456,65.7],[457,65.7],[458,72.5],[459,65.7],[460,79.5],[461,74.6],[462,65.7],[466,65.6],[467,70.9],[468,76.5],[469,65.5],[472,65.5],[473,70],[474,65.5],[477,65.4],[478,69.7],[479,65.4],[483,65.3],[484,68],[485,65.3],[487,65.2],[488,68.5],[489,65.2],[496,65.2],[497,66.7],[498,65.2],[504,65.1],[505,68],[506,65.1],[512,65],[513,69.4],[514,65],[520,65],[521,70],[522,65],[527,65],[528,67],[529,65],[531,65],[532,69],[533,65],[537,65],[538,72.4],[539,65],[546,64.9],[547,71],[548,64.9],[549,74],[550,64.8],
[555,64.8],[556,83.2],[557,64.8],[559,64.8],[560,70],[561,64.8],[563,64.8],[564,81.3],[565,74],[566,64.8],[567,72.3],[568,64.8],[571,64.6],[572,78.8],[573,64.5],[576,64.5],[577,68],[578,64.5],[581,64.5],[582,70.7],[583,72.9],[584,64.5],[588,64.3],[589,67],[590,64.3],[594,64.2],[595,70],[596,90],[597,64],[624,63.8],[625,67.7],[626,63.8],
[685,63.8],[686,78.6],[687,72.9],[688,63.8],[739,64],[740,69.8],[741,64],[749,64.2],[750,69.8],[751,64.2],[761,64.3],[762,67.6],[763,64.3],[765,64.3],[766,71],[767,64.3],[779,64.3],[780,67.9],[781,64.3],[796,64.3],[797,66.4],[798,64.3],
[824,64.5],[825,81.3],[826,64.5],[828,64.3],[829,66.7],[830,64.3],[856,64.2],[857,77.3],[858,64.2],[882,64],[883,69.4],[884,64],[889,64],[890,67.3],[891,64],[943,63.8],[944,66.3],[945,63.8],
[1014,63.5],[1015,78.5],[1016,71.9],[1017,63.5],[1098,63.2],[1099,69.2],[1100,73.1],[1101,63.2],[1111,63.2],[1112,70.4],[1113,63.2],[1119,63.2],[1120,83.1],[1121,63.2],
[1127,63.2],[1128,73.5],[1129,63.2],[1130,69.4],[1131,63.2],[1135,63.2],[1136,67],[1137,63.2],[1140,63.2],[1141,68],[1142,63.2],[1144,63.2],[1145,79.6],[1146,63.2],[1147,72.4],[1148,63.2],[1149,63.2],[1150,69.9],[1151,63.2],[1152,71.7],[1153,63.2],[1155,63.2],[1156,67.5],[1157,63.2],[1158,63.2],[1159,74.4],[1160,63.2],[1162,63.2],[1163,71.6],[1164,63.2],[1167,63.2],[1168,68],[1169,63.2],[1171,63.2],[1172,68.9],[1173,63.2],[1174,72.4],[1175,63.2],[1178,63.2],[1179,70.7],[1180,63.2],[1181,63.2],[1182,74.9],[1183,63.2],[1186,63.2],[1187,71.3],[1188,63],[1192,62.8],[1193,68],[1194,62.7],[1197,62.5],[1198,77.4],[1199,62.5],[1200,71.6],[1201,62.2],[1206,62.1],[1207,68],[1208,62],[1212,62],[1213,74.6],[1214,62],[1217,62],[1218,71.7],[1219,62],[1222,62],[1223,67.7],[1224,62],[1234,61.9],[1235,68.3],[1236,61.9],
[1270,61.9],[1271,69.9],[1272,61.9],[1317,61.8],[1318,67.1],[1319,61.8],[1339,61.7],[1340,65.4],[1341,61.7],[1387,61.5],[1388,80.6],[1389,80.3],[1390,61.5],[1392,61.3],[1393,73.1],[1394,61.2],[1414,60.6],[1415,68.4],[1416,60.6],[1440,59.6]];

const FONT='DejaVu Sans';
const plus='path://M2,0H3V2H5V3H3V5H2V3H0V2H2Z';
const G=[{left:58,top:84,width:2284,height:504},{left:58,top:645,width:2284,height:504}];

function xAx(i,labels){
  return {type:'value',gridIndex:i,min:0,max:1440,interval:120,
    axisLine:{show:true,onZero:false,lineStyle:{color:'#000',width:1}},
    axisTick:{show:true,inside:false,length:4,lineStyle:{color:'#000'}},
    minorTick:{show:true,splitNumber:4,length:4,lineStyle:{color:'#000'}},
    axisLabel:{margin:11,fontFamily:FONT,fontSize:9,color:'#222',
      formatter:v=>{const k=Math.round(v/120);return (v%120===0&&k<labels.length)?labels[k]:'';}},
    splitLine:{show:true,lineStyle:{color:'#b4b4b4',width:1.2}},
    minorSplitLine:{show:true,lineStyle:{color:'#cfc8b4',width:0.8,type:[2,2]}},
    name:'time',nameLocation:'middle',nameGap:27,nameMoveOverlap:false,nameTextStyle:{fontFamily:FONT,fontSize:11,color:'#111'}};
}
function yAx(i,pos){
  const left=pos==='left';
  return {type:'value',gridIndex:i,position:pos,min:yTicks[0],max:yTicks[yTicks.length-1],interval:12,
    axisLine:{show:true,lineStyle:{color:'#000',width:1}},
    axisTick:{show:true,inside:false,length:7,lineStyle:{color:'#000'}},
    minorTick:{show:true,splitNumber:4,length:3.5,lineStyle:{color:'#000'}},
    axisLabel:{show:true,margin:11,fontFamily:FONT,fontSize:9,color:'#222'},
    splitLine:{show:left,lineStyle:{color:'#b4b4b4',width:1.2}},
    minorSplitLine:{show:left,lineStyle:{color:'#c9c4b6',width:0.8,type:[4,3]}},
    name:'dB SPL',nameLocation:'middle',nameGap:left?35:32,nameRotate:90,nameMoveOverlap:false,
    nameTextStyle:{fontFamily:FONT,fontSize:12,color:'#111'}};
}
function sc(name,data,color){
  return {type:'scatter',name,xAxisIndex:0,yAxisIndex:0,data,symbol:plus,symbolSize:4.5,
    itemStyle:{color,opacity:0.85},z:2,silent:true};
}
function ln(name,data,color,gi,w){
  return {type:'line',name,xAxisIndex:gi,yAxisIndex:gi*2,data,showSymbol:false,symbol:'none',
    lineStyle:{color,width:w},itemStyle:{color},z:3,silent:true,sampling:null};
}
const legText={fontFamily:FONT,fontSize:9,color:'#111',lineHeight:12};
const chart=echarts.init(document.getElementById('c'),null,{renderer:'canvas'});
chart.setOption({
  animation:false,backgroundColor:'#fff',
  grid:G.map(g=>Object.assign({show:true,backgroundColor:'#fff8dc',borderColor:'#000',borderWidth:1,containLabel:false},g)),
  xAxis:[xAx(0,topTickLabels),xAx(1,bottomTickLabels)],
  yAxis:[yAx(0,'left'),yAx(0,'right'),yAx(1,'left'),yAx(1,'right')],
  title:[
    {text:'data from [421/mic0]\nstarting point is [20251103_000000]',left:23,top:10,padding:0,
      textStyle:{fontFamily:FONT,fontSize:14,fontWeight:'bold',color:'#000',lineHeight:16}},
    {text:'average and peak noise level (1 min sampling)',left:58,top:65,padding:0,
      textStyle:{fontFamily:FONT,fontSize:11.5,fontWeight:'bold',color:'#000'}},
    {text:'average noise level (5 min with 15s min/max dB envelope)',left:58,top:627,padding:0,
      textStyle:{fontFamily:FONT,fontSize:11.5,fontWeight:'bold',color:'#000'}}
  ],
  graphic:[
    {type:'rect',shape:{x:2155,y:543,width:183,height:40,r:3},style:{fill:'rgba(255,248,225,0.85)',stroke:'#d8c3a0',lineWidth:1},z:50},
    {type:'rect',shape:{x:2277,y:1103,width:61,height:41,r:3},style:{fill:'rgba(255,248,225,0.85)',stroke:'#d8c3a0',lineWidth:1},z:50}
  ],
  legend:[
    {data:[{name:'peak dB(Z)',icon:'circle'},{name:'peak dB(C)',icon:'circle'},{name:'peak dB(A)',icon:'circle'}],
     left:2166,top:545,orient:'vertical',itemWidth:6,itemHeight:6,itemGap:0,z:60,padding:0,
     textStyle:Object.assign({padding:[0,0,0,9]},legText),selectedMode:false},
    {data:[{name:'avg dB(Z)',icon:'rect'},{name:'avg dB(C)',icon:'rect'},{name:'avg dB(A)',icon:'rect'}],
     left:2258,top:545,orient:'vertical',itemWidth:22,itemHeight:4,itemGap:0,z:60,padding:0,
     textStyle:Object.assign({padding:[0,0,0,1]},legText),selectedMode:false},
    {data:[{name:'dB(Z)',icon:'rect'},{name:'dB(C)',icon:'rect'},{name:'dB(A)',icon:'rect'}],
     left:2279,top:1105,orient:'vertical',itemWidth:22,itemHeight:4,itemGap:0,z:60,padding:0,
     textStyle:Object.assign({padding:[0,0,0,3]},legText),selectedMode:false}
  ],
  series:[
    sc('peak dB(Z)',peakZ,'#1e90ff'),
    sc('peak dB(C)',peakC,'#ff22ee'),
    sc('peak dB(A)',peakA,'#2e8b57'),
    ln('avg dB(Z)',avgZ,'#4682b4',0,1.6),
    ln('avg dB(C)',avgC,'#da70d6',0,1.6),
    ln('avg dB(A)',avgA,'#9acd32',0,1.5),
    Object.assign(ln('envelope',envMax,'rgba(240,140,120,0.42)',1,0.9),{z:2}),
    ln('dB(Z)',lineZ,'#dc143c',1,1.6),
    ln('dB(C)',lineC,'#ff8c00',1,1.6),
    ln('dB(A)',lineA,'#ffd700',1,1.6)
  ]
});
</script></body></html>
